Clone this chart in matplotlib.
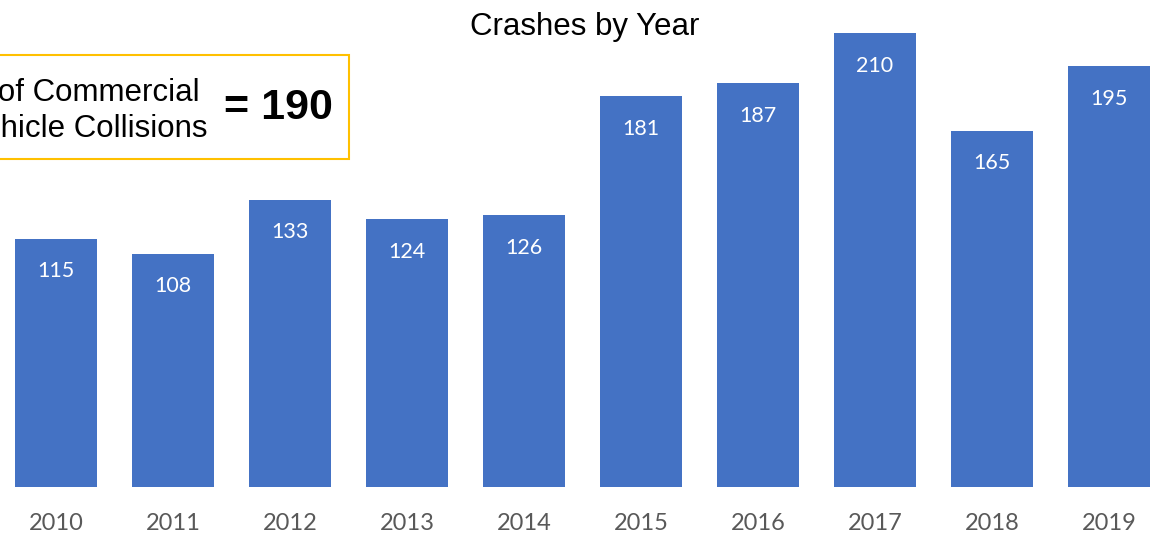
import matplotlib
matplotlib.use('Agg')
import matplotlib.pyplot as plt
from matplotlib.patches import Rectangle

# data
years = ['2010', '2011', '2012', '2013', '2014', '2015', '2016', '2017', '2018', '2019']
crashes = [115, 108, 133, 124, 126, 181, 187, 210, 165, 195]
avg_label = '# of Commercial\nVehicle Collisions'
avg_value = 190

W, H = 1159, 539
fig = plt.figure(figsize=(W / 100, H / 100), dpi=100)

# axes covers the full width, baseline at y=487px
ax = fig.add_axes([0, 1 - 487 / H, 1, 487 / H])
x = list(range(len(years)))
ax.bar(x, crashes, width=0.7, color='#4472C4')
ax.set_xlim((0 - 56) / 117, (W - 56) / 117)
ax.set_ylim(0, 225.5)

for xi, v in zip(x, crashes):
    ax.annotate(str(v), (xi, v), xytext=(0, -23.5), textcoords='offset points',
                ha='center', va='center', color='white', fontsize=15.5, family='Lato')

ax.set_xticks(x)
ax.set_xticklabels(years, fontsize=17, family='Lato', color='#595959')
ax.tick_params(axis='x', length=0, pad=19)
ax.set_yticks([])
for s in ax.spines.values():
    s.set_visible(False)

fig.text(584.5 / W, 1 - 27 / H, 'Crashes by Year', ha='center', va='center',
         fontsize=22.5, family='Liberation Sans', color='black')

# average box, clipped at the left edge of the picture
box = Rectangle((-40 / W, 1 - 159 / H), (349 + 40) / W, 104 / H,
                transform=fig.transFigure, fill=False, edgecolor='#FFC000', linewidth=1.5)
fig.patches.append(box)
fig.text(86 / W, 1 - 111 / H, avg_label, ha='center', va='center', multialignment='center',
         fontsize=22.5, family='Liberation Sans', color='black', linespacing=1.3)
fig.text(278 / W, 1 - 108 / H, '= %d' % avg_value, ha='center', va='center',
         fontsize=31, family='Liberation Sans', fontweight='bold', color='black')

fig.savefig('out.png', dpi=100)
